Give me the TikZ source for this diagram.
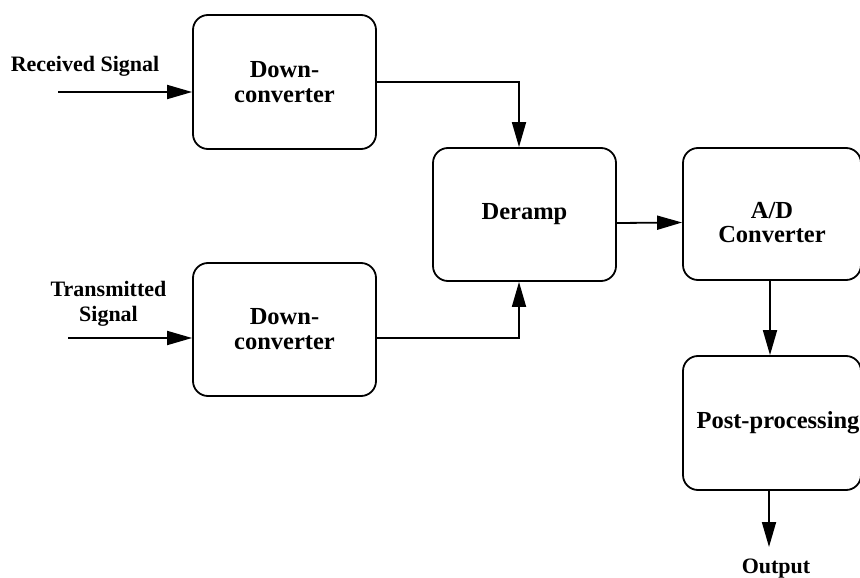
\documentclass[tikz,border=0pt]{standalone}
\usepackage{fontspec}
\setmainfont{Liberation Serif}
\usetikzlibrary{arrows.meta}
\begin{document}
\begin{tikzpicture}[x=1pt,y=-1pt,
  box/.style={draw, line width=1.8pt, rounded corners=15pt, align=center, inner sep=0pt,
    font=\fontsize{24.5}{25}\selectfont\bfseries},
  lbl/.style={align=center, inner sep=0pt, font=\fontsize{22}{25}\selectfont\bfseries},
  arr/.style={line width=1.8pt, -{Triangle[length=25pt,width=14pt]}},
  ln/.style={line width=1.8pt}]
\useasboundingbox (0,0) rectangle (860,578);
\node[box, minimum width=183pt, minimum height=134pt] (dc1) at (284.5,82) {Down-\\converter};
\node[box, minimum width=183pt, minimum height=133pt] (dc2) at (284.5,329.5) {Down-\\converter};
\node[box, minimum width=183pt, minimum height=133pt] (der) at (524.5,214.5) {Deramp};
\node[box, minimum width=178pt, minimum height=132pt] (ad) at (772,214) {};
\node[lbl, font=\fontsize{24.5}{24}\selectfont\bfseries] (adtxt) at (772,223) {A/D\\Converter};
\node[box, minimum width=178pt, minimum height=134pt] (post) at (772,423) {\hspace*{12pt}Post-processing};
\node[lbl, anchor=base] (rx) at (85,72) {Received Signal};
\node[lbl] (tx) at (108.5,304) {Transmitted\\Signal};
\node[lbl, anchor=base] (out) at (776,573) {Output};
\coordinate (rxs) at (58,92);
\coordinate (txs) at (68,338);
\coordinate (oute) at (769,547);
\draw[arr] (rxs) -- (dc1.west|-rxs);
\draw[arr] (txs) -- (dc2.west|-txs);
\draw[arr] (dc1.east) -| ([xshift=-5.5pt]der.north);
\draw[arr] ([yshift=-8.5pt]dc2.east) -| ([xshift=-5.5pt]der.south);
\draw[arr] ([yshift=-8.5pt]der.east) -- ([yshift=-8.5pt]ad.west);
\draw[arr] ([xshift=-2pt]ad.south) -- ([xshift=-2pt]post.north);
\draw[arr] (post.south-|oute) -- (oute);
\end{tikzpicture}
\end{document}
